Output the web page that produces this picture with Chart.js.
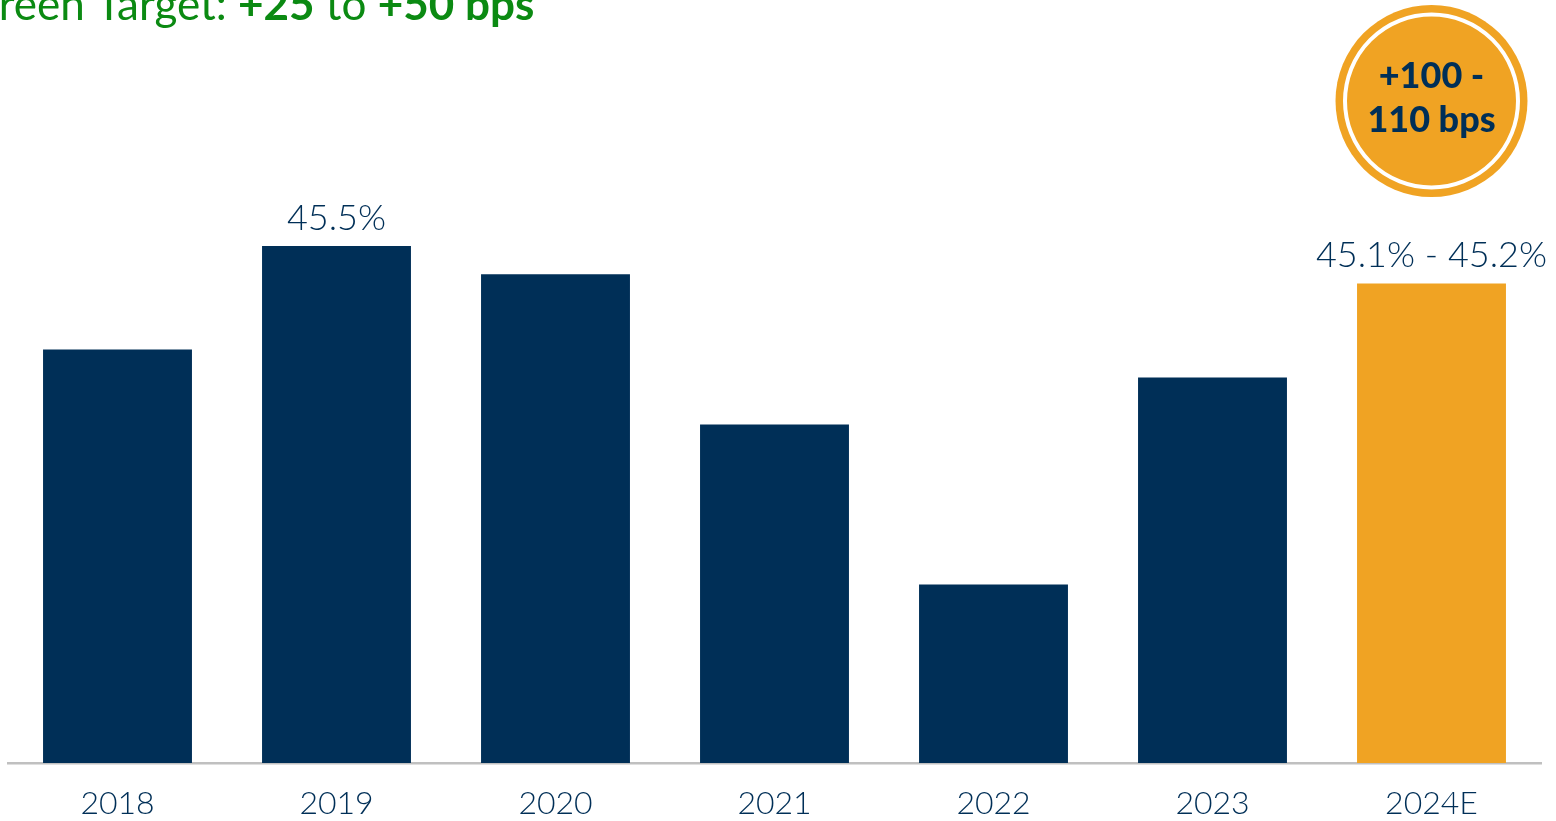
<!DOCTYPE html>
<html>
<head>
<meta charset="utf-8">
<script src="https://cdn.jsdelivr.net/npm/chart.js@4.4.1/dist/chart.umd.min.js"></script>
<style>
  html, body { margin: 0; padding: 0; background: #ffffff; }
  #wrap { position: relative; width: 1556px; height: 821px; }
</style>
</head>
<body>
<div id="wrap"><canvas id="c" width="1556" height="821"></canvas></div>
<script>
// Gross margin by year (%)
const years = ['2018', '2019', '2020', '2021', '2022', '2023', '2024E'];
const margins = [44.4, 45.5, 45.2, 43.6, 41.9, 44.1, 45.1];
// Value labels shown above selected bars (empty = no label)
const valueLabels = ['', '45.5%', '', '', '', '', '45.1% - 45.2%'];
const badgeLines = ['+100 -', '110 bps'];
const headlineParts = [
  { text: 'Green Target: ', bold: false },
  { text: '+25', bold: true },
  { text: ' to ', bold: false },
  { text: '+50 bps', bold: true }
];

const NAVY = '#002f57';
const ORANGE = '#f0a323';
const GREEN = '#0b8a12';
const FONT = "'Lato', 'Open Sans', sans-serif";

const barColors = years.map(y => y.endsWith('E') ? ORANGE : NAVY);

const annotations = {
  id: 'annotations',
  afterDatasetsDraw(chart) {
    const ctx = chart.ctx;
    const meta = chart.getDatasetMeta(0);

    // value labels above bars
    ctx.save();
    ctx.fillStyle = NAVY;
    ctx.font = `300 36px ${FONT}`;
    ctx.textAlign = 'center';
    ctx.textBaseline = 'bottom';
    meta.data.forEach((bar, i) => {
      if (!valueLabels[i]) return;
      ctx.fillText(valueLabels[i], bar.x, bar.y - 10);
    });
    ctx.restore();

    // badge above the estimate bar
    const last = meta.data[meta.data.length - 1];
    const cx = last.x, cy = 101;
    ctx.save();
    ctx.beginPath();
    ctx.arc(cx, cy, 96, 0, Math.PI * 2);
    ctx.fillStyle = ORANGE;
    ctx.fill();
    ctx.beginPath();
    ctx.arc(cx, cy, 86.5, 0, Math.PI * 2);
    ctx.strokeStyle = '#ffffff';
    ctx.lineWidth = 4;
    ctx.stroke();
    ctx.fillStyle = NAVY;
    ctx.font = `900 36px ${FONT}`;
    ctx.textAlign = 'center';
    ctx.textBaseline = 'middle';
    ctx.fillText(badgeLines[0], cx, cy - 25);
    ctx.fillText(badgeLines[1], cx, cy + 19);
    ctx.restore();

    // headline along the top edge
    ctx.save();
    ctx.fillStyle = GREEN;
    ctx.textBaseline = 'alphabetic';
    ctx.font = `44px ${FONT}`;
    let x = -ctx.measureText('G').width - 1;
    headlineParts.forEach(p => {
      ctx.font = `${p.bold ? 'bold ' : ''}44px ${FONT}`;
      ctx.fillText(p.text, x, 20);
      x += ctx.measureText(p.text).width;
    });
    ctx.restore();
  }
};

new Chart(document.getElementById('c'), {
  type: 'bar',
  data: {
    labels: years,
    datasets: [{
      data: margins,
      backgroundColor: barColors,
      borderWidth: 0,
      barPercentage: 0.68,
      categoryPercentage: 1.0
    }]
  },
  options: {
    responsive: false,
    animation: false,
    layout: { padding: { top: 152, left: 8, right: 15, bottom: 0 } },
    plugins: { legend: { display: false }, tooltip: { enabled: false } },
    scales: {
      x: {
        grid: { display: false, drawTicks: false },
        border: { display: true, color: '#c0c0c0', width: 2.5 },
        ticks: { color: NAVY, font: { family: FONT, size: 32, weight: '300', lineHeight: 1 }, padding: 25 },
        afterFit(scale) { scale.height = 58; }
      },
      y: {
        display: false,
        min: 40,
        max: 46.5
      }
    }
  },
  plugins: [annotations]
});
</script>
</body>
</html>
